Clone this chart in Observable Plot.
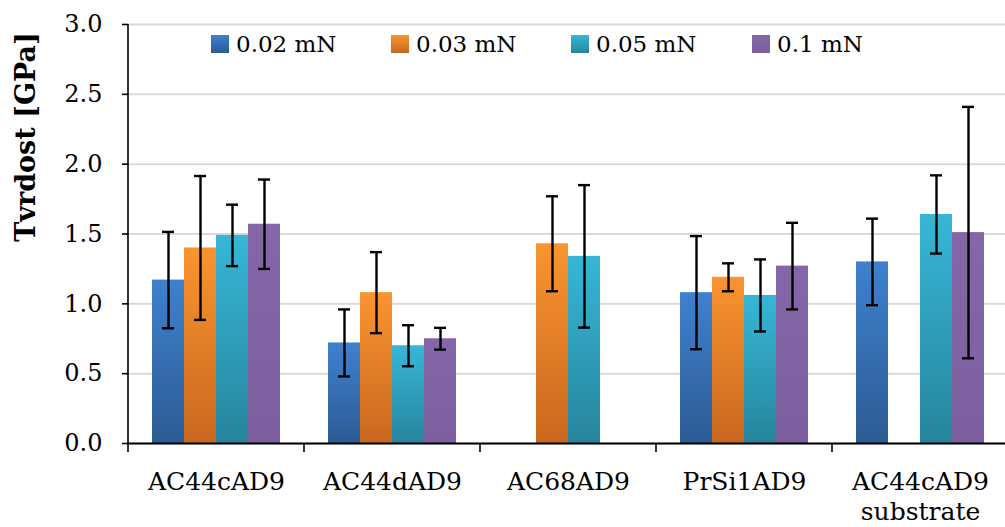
<!DOCTYPE html>
<html>
<head>
<meta charset="utf-8">
<script src="https://cdn.jsdelivr.net/npm/d3@7"></script>
<script src="https://cdn.jsdelivr.net/npm/@observablehq/plot@0.6"></script>
<style>
  html, body { margin: 0; padding: 0; background: #fff; overflow: hidden; }
  #wrap { position: relative; width: 1005px; height: 527px; }
  #legend { position: absolute; top: 0; left: 0; width: 1005px; height: 80px; pointer-events: none;
            font-family: "DejaVu Serif", serif; font-size: 23px; color: #000; }
  .item { position: absolute; top: 31px; display: flex; align-items: center; white-space: nowrap; }
  .sw { width: 18px; height: 18px; margin-right: 7px; }
</style>
</head>
<body>
<div id="wrap"><div id="legend"></div></div>
<script>
// ---- data ----
const categories = ["AC44cAD9", "AC44dAD9", "AC68AD9", "PrSi1AD9", "AC44cAD9 substrate"];
const series = ["0.02 mN", "0.03 mN", "0.05 mN", "0.1 mN"];
const val002 = [1.17, 0.72, null, 1.08, 1.30];
const val003 = [1.40, 1.08, 1.43, 1.19, null];
const val005 = [1.49, 0.70, 1.34, 1.06, 1.64];
const val01  = [1.57, 0.75, null, 1.27, 1.51];
const err002 = [0.345, 0.24, null, 0.405, 0.31];
const err003 = [0.515, 0.29, 0.34, 0.10, null];
const err005 = [0.22, 0.147, 0.51, 0.258, 0.28];
const err01  = [0.32, 0.078, null, 0.31, 0.90];
const yTicks = [0, 0.5, 1.0, 1.5, 2.0, 2.5, 3.0];
const yLabel = "Tvrdost [GPa]";

// ---- styling ----
const gradIds = ["gBlue", "gOrange", "gTeal", "gPurple"];
const gradStops = [["#3f81ce", "#2c5b94"], ["#fa9430", "#c9681f"], ["#37b6d7", "#26859c"], ["#8367a6", "#7c5f9f"]];

const values = [val002, val003, val005, val01];
const errors = [err002, err003, err005, err01];
const rows = [];
categories.forEach((c, i) => series.forEach((s, j) => {
  const v = values[j][i];
  if (v != null) rows.push({cat: c, series: s, value: v, err: errors[j][i]});
}));
const errRows = rows.filter(d => d.err != null);

const defsRender = () => {
  const defs = d3.create("svg:defs");
  gradIds.forEach((id, k) => {
    const lg = defs.append("linearGradient").attr("id", id).attr("x1", 0).attr("y1", 0).attr("x2", 0).attr("y2", 1);
    lg.append("stop").attr("offset", "0%").attr("stop-color", gradStops[k][0]);
    lg.append("stop").attr("offset", "100%").attr("stop-color", gradStops[k][1]);
  });
  return defs.node();
};

const axisLinesRender = (index, scales, values, dims) => {
  const g = d3.create("svg:g").attr("stroke", "#000").attr("fill", "none");
  const yTop = scales.y ? scales.y(3) : dims.marginTop;
  const yBase = scales.y ? scales.y(0) : dims.height - dims.marginBottom;
  const x0 = dims.marginLeft;
  g.append("line").attr("x1", x0).attr("x2", x0).attr("y1", yTop).attr("y2", yBase).attr("stroke-width", 1.6);
  const fx = scales.fx;
  const bw = (dims.width - dims.marginLeft - dims.marginRight) / categories.length;
  categories.forEach((c, i) => {
    const xl = fx ? fx(c) : dims.marginLeft + i * bw;
    g.append("line").attr("x1", xl).attr("x2", xl).attr("y1", yBase).attr("y2", yBase + 9).attr("stroke-width", 1.6);
  });
  return g.node();
};

const plot = Plot.plot({
  width: 1005,
  height: 527,
  marginLeft: 128,
  marginRight: -3,
  marginTop: 24,
  marginBottom: 84,
  style: {fontFamily: "DejaVu Serif, serif", fontSize: "24px", color: "#000", background: "#fff", overflow: "visible"},
  fx: {domain: categories, padding: 0, label: null},
  x: {domain: series, paddingInner: 0, paddingOuter: 0.75, axis: null},
  y: {domain: [0, 3], label: null},
  color: {domain: series, range: gradIds.map(id => `url(#${id})`)},
  marks: [
    Plot.frame({facet: "super", stroke: "none", render: defsRender}),
    Plot.gridY(yTicks, {stroke: "#d9d9d9", strokeOpacity: 1, strokeWidth: 2}),
    Plot.barY(rows, {fx: "cat", x: "series", y: "value", fill: "series"}),
    Plot.ruleX(errRows, {fx: "cat", x: "series", y1: d => d.value - d.err, y2: d => d.value + d.err, stroke: "#000", strokeWidth: 2.4}),
    Plot.tickY(errRows, {fx: "cat", x: "series", y: d => d.value - d.err, stroke: "#000", strokeWidth: 2.4, insetLeft: 10, insetRight: 10}),
    Plot.tickY(errRows, {fx: "cat", x: "series", y: d => d.value + d.err, stroke: "#000", strokeWidth: 2.4, insetLeft: 10, insetRight: 10}),
    Plot.ruleY([0], {stroke: "#000", strokeWidth: 2}),
    Plot.axisY(yTicks, {tickFormat: d3.format(".1f"), tickSize: 6, tickPadding: 20, label: null, fontSize: 24, strokeWidth: 1.6}),
    Plot.axisFx({anchor: "bottom", tickSize: 0, tickPadding: 25, tickFormat: d => d.replace(" ", "\n"), label: null, fontSize: 25, lineHeight: 1.2}),
    Plot.frame({facet: "super", stroke: "none", render: axisLinesRender}),
    Plot.text([yLabel], {facet: "super", frameAnchor: "left", textAnchor: "middle", dx: -102, dy: -97, rotate: -90, fontWeight: "bold", fontSize: 27, fill: "#000"})
  ]
});

document.getElementById("wrap").prepend(plot);

// legend
const legendLeft = [211, 391, 571, 752];
const legend = d3.select("#legend");
series.forEach((s, k) => {
  const it = legend.append("div").attr("class", "item").style("left", legendLeft[k] + "px");
  it.append("div").attr("class", "sw").style("background", `linear-gradient(${gradStops[k][0]}, ${gradStops[k][1]})`);
  it.append("span").text(s);
});
</script>
</body>
</html>
